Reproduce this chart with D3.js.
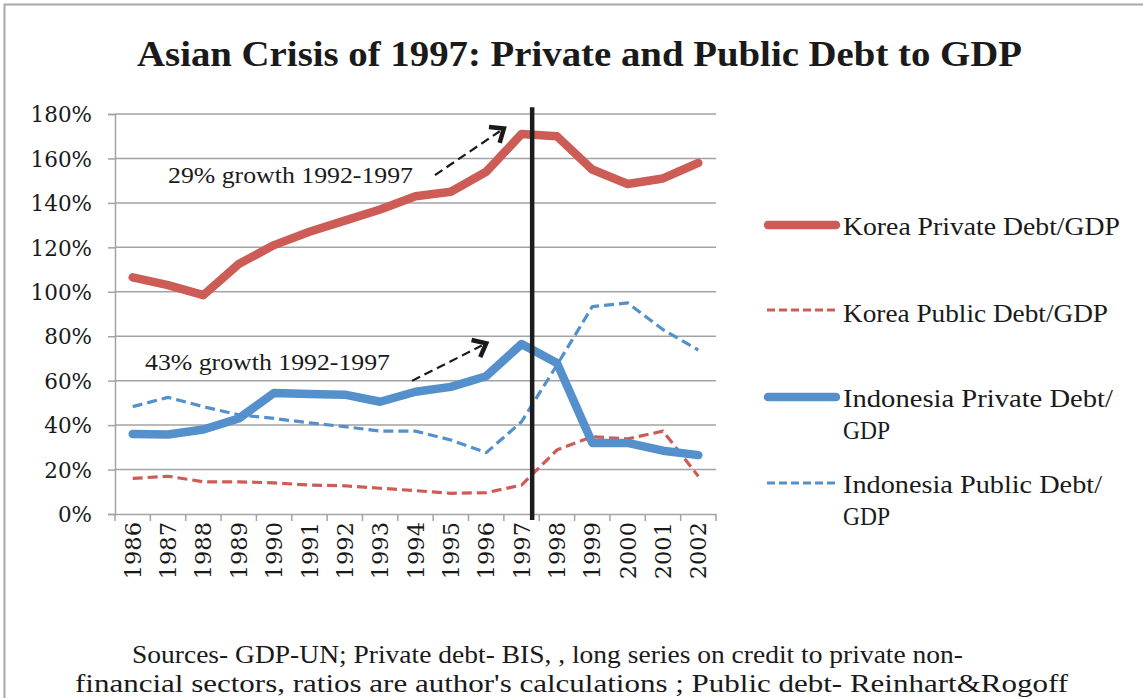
<!DOCTYPE html>
<html>
<head>
<meta charset="utf-8">
<script src="https://cdn.jsdelivr.net/npm/d3@7"></script>
<style>
  html, body { margin: 0; padding: 0; background: #fff; }
  svg { display: block; }
</style>
</head>
<body>
<svg id="chart" width="1143" height="698"></svg>
<script>
// ---- data ----
const years = ["1986","1987","1988","1989","1990","1991","1992","1993","1994","1995","1996","1997","1998","1999","2000","2001","2002"];
const koreaPrivate = [106.5, 103, 98.5, 112.5, 121, 127, 132, 137, 143, 145, 154, 171, 170, 155, 148.5, 151, 158];
const koreaPublic  = [16, 17, 14.5, 14.5, 14, 13, 12.7, 11.6, 10.5, 9.3, 9.6, 13, 28.8, 34.8, 33.8, 37.3, 17];
const indoPrivate  = [36, 35.8, 38, 43, 54.5, 54, 53.7, 50.5, 55, 57.2, 62, 76.5, 68, 32, 32, 28.5, 26.5];
const indoPublic   = [48.3, 52.5, 48.3, 44.6, 43, 41, 39.3, 37.3, 37.3, 33.3, 27.6, 41.5, 67, 93.3, 95, 83, 73.8];
const yTicks = [0, 20, 40, 60, 80, 100, 120, 140, 160, 180];
const seriesNames = ["Korea Private Debt/GDP", "Korea Public Debt/GDP", "Indonesia Private Debt/GDP", "Indonesia Public Debt/GDP"];
const titleText = "Asian Crisis of 1997: Private and Public Debt to GDP";
const annotations = ["29% growth 1992-1997", "43% growth 1992-1997"];
const footerLines = ["Sources- GDP-UN; Private debt- BIS, , long series on credit to private non-",
                     "financial sectors, ratios are author's calculations ; Public debt- Reinhart&Rogoff"];

// ---- layout ----
const svg = d3.select("#chart");
const RED = "#cd5c56", BLUE = "#5490cb", GRID = "#a3a3a5", INK = "#1a1a1a";
const SERIF = "Liberation Serif, serif";
const plot = { left: 115, right: 716, top: 114, bottom: 514 };

const x = d3.scaleBand().domain(years).range([plot.left, plot.right]).padding(0);
const y = d3.scaleLinear().domain([0, 180]).range([plot.bottom, plot.top]);
const step = x.step();
const fx = i => plot.left + (i + 0.5) * step; // fractional category position

// outer frame (left + top)
svg.append("path").attr("d", "M4.5,698 L4.5,4.5 L1143,4.5")
  .attr("fill", "none").attr("stroke", "#a8a8aa").attr("stroke-width", 2);

// title
svg.append("text").attr("x", 137).attr("y", 66)
  .attr("font-family", SERIF).attr("font-weight", "bold")
  .attr("font-size", 35).attr("fill", INK)
  .attr("textLength", 885).attr("lengthAdjust", "spacingAndGlyphs")
  .text(titleText);

// gridlines
svg.append("g").selectAll("line").data(yTicks.filter(d => d > 0)).join("line")
  .attr("x1", plot.left).attr("x2", plot.right)
  .attr("y1", d => y(d)).attr("y2", d => y(d))
  .attr("stroke", GRID).attr("stroke-width", 1.5);

// y axis
const yAxis = d3.axisLeft(y).tickValues(yTicks).tickSize(7).tickPadding(16)
  .tickFormat(d => d + "%");
const gy = svg.append("g").attr("transform", `translate(${plot.left},0)`).call(yAxis);
gy.select(".domain").attr("stroke", GRID).attr("stroke-width", 1.5);
gy.selectAll(".tick line").attr("stroke", GRID).attr("stroke-width", 1.5);
gy.selectAll(".tick text").attr("font-family", "DejaVu Serif, serif").attr("font-size", 21.5)
  .attr("fill", INK).attr("dy", "0.36em");

// x axis
const xAxis = d3.axisBottom(x).tickSize(0).tickPadding(0);
const gx = svg.append("g").attr("transform", `translate(0,${plot.bottom})`).call(xAxis);
gx.select(".domain").attr("stroke", GRID).attr("stroke-width", 1.5);
gx.selectAll(".tick text")
  .attr("font-family", "DejaVu Serif, serif").attr("font-size", 22.5).attr("fill", INK)
  .attr("transform", "rotate(-90)").attr("text-anchor", "end")
  .attr("x", -8).attr("y", 0).attr("dy", "0.36em");
// boundary ticks
const bounds = years.map(d => x(d)).concat([plot.right]);
gx.append("g").selectAll("line").data(bounds).join("line")
  .attr("x1", d => d).attr("x2", d => d).attr("y1", 0).attr("y2", 7)
  .attr("stroke", GRID).attr("stroke-width", 1.5);

// lines
const line = d3.line().x((d, i) => x(years[i]) + step / 2).y(d => y(d));
function drawSeries(values, color, width, dash) {
  svg.append("path").datum(values).attr("d", line)
    .attr("fill", "none").attr("stroke", color).attr("stroke-width", width)
    .attr("stroke-linejoin", "round").attr("stroke-linecap", dash ? "butt" : "round")
    .attr("stroke-dasharray", dash || null);
}
drawSeries(koreaPublic, RED, 3.2, "10,5");
drawSeries(indoPublic, BLUE, 3.2, "10,5");
drawSeries(koreaPrivate, RED, 8.5, null);
drawSeries(indoPrivate, BLUE, 8.5, null);

// crisis vertical line
const crisisX = x("1997") + step * 0.8;
svg.append("line").attr("x1", crisisX).attr("x2", crisisX)
  .attr("y1", y(183)).attr("y2", plot.bottom + 6)
  .attr("stroke", "#1c1c1c").attr("stroke-width", 4.5);

// annotations
function annText(txt, xi, yv, len) {
  svg.append("text").attr("x", fx(xi)).attr("y", y(yv))
    .attr("font-family", SERIF).attr("font-size", 23.5).attr("fill", INK)
    .attr("textLength", len).attr("lengthAdjust", "spacingAndGlyphs").text(txt);
}
annText(annotations[0], (168 - plot.left) / step - 0.5, 149, 245);
annText(annotations[1], (145 - plot.left) / step - 0.5, 64.8, 245);

function arrow(i0, v0, i1, v1) {
  const x0 = fx(i0), y0 = y(v0), x1 = fx(i1), y1 = y(v1);
  const ang = Math.atan2(y1 - y0, x1 - x0);
  const L = 15;
  svg.append("line").attr("x1", x0).attr("y1", y0)
    .attr("x2", x1 - 5 * Math.cos(ang)).attr("y2", y1 - 5 * Math.sin(ang))
    .attr("stroke", INK).attr("stroke-width", 2.2).attr("stroke-dasharray", "9,5");
  const a1 = ang + Math.PI * 0.78, a2 = ang - Math.PI * 0.78;
  svg.append("path")
    .attr("d", `M${x1 + L * Math.cos(a1)},${y1 + L * Math.sin(a1)} L${x1},${y1} L${x1 + L * Math.cos(a2)},${y1 + L * Math.sin(a2)}`)
    .attr("fill", "none").attr("stroke", INK).attr("stroke-width", 4.5)
    .attr("stroke-linejoin", "miter");
}
arrow(8.55, 152.5, 10.5, 173.5);
arrow(7.9, 59.9, 10.0, 76.8);

// legend
const legend = [
  { lines: ["Korea Private Debt/GDP"], lens: [277], color: RED, w: 8.5, dash: null, ly: 225, ty: [235] },
  { lines: ["Korea Public Debt/GDP"], lens: [265], color: RED, w: 3.2, dash: "8,4", ly: 310, ty: [322] },
  { lines: ["Indonesia Private Debt/", "GDP"], lens: [270, 47], color: BLUE, w: 8.5, dash: null, ly: 397, ty: [407, 439] },
  { lines: ["Indonesia Public Debt/", "GDP"], lens: [259, 47], color: BLUE, w: 3.2, dash: "8,4", ly: 483, ty: [493, 525] }
];
legend.forEach((d, k) => {
  const g = svg.append("g").attr("class", "legend-item").attr("data-name", seriesNames[k]);
  g.append("line").attr("x1", d.dash ? 767 : 768).attr("x2", d.dash ? 837 : 836)
    .attr("y1", d.ly).attr("y2", d.ly)
    .attr("stroke", d.color).attr("stroke-width", d.w)
    .attr("stroke-linecap", d.dash ? "butt" : "round").attr("stroke-dasharray", d.dash);
  d.lines.forEach((t, j) => {
    g.append("text").attr("x", 843).attr("y", d.ty[j])
      .attr("font-family", SERIF).attr("font-size", 26).attr("fill", INK)
      .attr("textLength", d.lens[j]).attr("lengthAdjust", "spacingAndGlyphs").text(t);
  });
});

// footer
const footerPos = [{ x: 132, y: 663, len: 831 }, { x: 75, y: 692, len: 993 }];
footerLines.forEach((t, j) => {
  svg.append("text").attr("x", footerPos[j].x).attr("y", footerPos[j].y)
    .attr("font-family", SERIF).attr("font-size", 25).attr("fill", INK)
    .attr("textLength", footerPos[j].len).attr("lengthAdjust", "spacingAndGlyphs").text(t);
});
</script>
</body>
</html>
